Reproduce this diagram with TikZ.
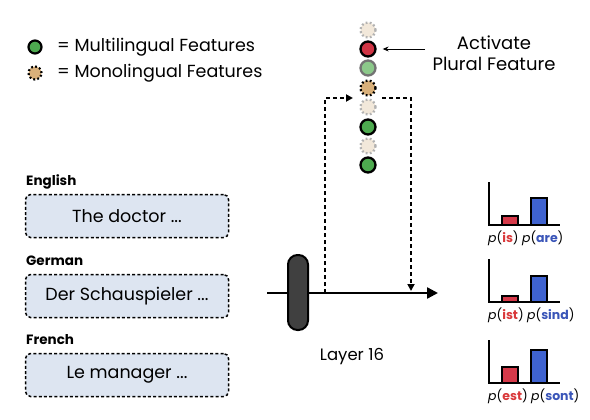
\documentclass[tikz,border=0pt]{standalone}
\usepackage{fontspec}
\setmainfont{Poppins}
\usetikzlibrary{arrows.meta, positioning, calc}

\definecolor{featgreen}{HTML}{4DAA4F}
\definecolor{palegreen}{HTML}{8CC98A}
\definecolor{pluralred}{HTML}{D03545}
\definecolor{monotan}{HTML}{D9B07A}
\definecolor{fadetan}{HTML}{F2E8DA}
\definecolor{boxblue}{HTML}{DDE5F1}
\definecolor{barred}{HTML}{D63A4A}
\definecolor{barblue}{HTML}{3F63D0}
\definecolor{txtred}{HTML}{D9383A}
\definecolor{txtblue}{HTML}{3A55B8}

\tikzset{
  multi/.style={circle, draw=black, line width=2.3pt, fill=featgreen, minimum size=15pt, inner sep=0pt},
  mono/.style={circle, draw=black, line width=2.3pt, dash pattern=on 1.8pt off 2.3pt, fill=monotan, minimum size=15pt, inner sep=0pt},
  faded/.style={circle, draw=gray!60, line width=2.3pt, dash pattern=on 1.8pt off 2.3pt, fill=fadetan, minimum size=15pt, inner sep=0pt},
  srcbox/.style={draw=black, rounded corners=5pt, line width=1.5pt, dash pattern=on 3pt off 2.2pt, fill=boxblue, minimum width=203pt, minimum height=43pt, font=\fontsize{17.5}{20}\selectfont},
  langlabel/.style={anchor=west, inner sep=0pt, font=\fontsize{13.5}{16}\selectfont\bfseries},
  flow/.style={line width=1.8pt, dash pattern=on 4pt off 3pt, -{Triangle[length=7pt,width=7pt]}},
  bar/.style={draw=black, line width=1.6pt},
  problabel/.style={inner sep=0pt, font=\fontsize{12.5}{15}\selectfont}
}

\begin{document}
\begin{tikzpicture}[x=1pt, y=-1pt, >=Triangle]
  \useasboundingbox (0,0) rectangle (590,420);

  % Legend
  \node[multi, minimum size=13pt, line width=2.2pt] (legmulti) at (35,47) {};
  \node[anchor=west, inner sep=0pt, font=\fontsize{17.5}{20}\selectfont] (legmultitxt) at (57,47) {= Multilingual Features};
  \node[mono, minimum size=13pt, line width=2.2pt] (legmono) at (35,73) {};
  \node[anchor=west, inner sep=0pt, font=\fontsize{17.5}{20}\selectfont] (legmonotxt) at (57,73) {= Monolingual Features};

  % Column of features at layer 16
  \node[faded] (f1) at (368,30) {};
  \node[multi, fill=pluralred] (f2) at (368,49) {};
  \node[multi, fill=palegreen, draw=gray!90!black] (f3) at (368,68) {};
  \node[mono] (f4) at (368,88) {};
  \node[faded] (f5) at (368,107) {};
  \node[multi] (f6) at (368,127) {};
  \node[faded] (f7) at (368,146) {};
  \node[multi] (f8) at (368,165) {};

  % Activation of the plural feature
  \coordinate (actstart) at (425,49);
  \draw[line width=0.9pt, -{Stealth[length=6pt,width=5pt]}] (actstart) -- ([xshift=6pt]f2.east);
  \node[align=center, font=\fontsize{18}{21}\selectfont] (actlabel) at (494,53) {Activate\\Plural Feature};

  % Residual stream through layer 16
  \coordinate (linestart) at (267,293);
  \coordinate (lineend) at (438,293);
  \draw[line width=2.4pt, -{Triangle[length=11pt,width=11pt]}] (linestart) -- (lineend);
  \node[draw=black, line width=2pt, fill=black!75, rounded corners=9.5pt, minimum width=20pt, minimum height=75pt, inner sep=0pt] (layer) at (298,292.5) {};
  \node[font=\fontsize{16.5}{20}\selectfont] (layerlabel) at (352,357) {Layer 16};

  % Read out to the features and write back
  \coordinate (tapout) at (325,293);
  \coordinate (tapin) at (353,98);
  \coordinate (retout) at (382,98);
  \coordinate (retin) at (411,291);
  \draw[flow] (tapout) |- (tapin);
  \draw[flow] (retout) -| (retin);

  % Prompts in three languages
  \node[langlabel] (englabel) at (26,182) {English};
  \node[srcbox] (engbox) at (127,216) {The doctor ...};
  \node[langlabel] (gerlabel) at (26,261) {German};
  \node[srcbox] (gerbox) at (127,296) {Der Schauspieler ...};
  \node[langlabel] (frelabel) at (26,340) {French};
  \node[srcbox] (frebox) at (127,375) {Le manager ...};

  % Output probabilities
  \foreach \base/\red/\blue/\sing/\plur [count=\i] in {225/9/27/is/are, 302/6/26/ist/sind, 383/16/33/est/sont} {
    \coordinate (origin\i) at (489,\base);
    \draw[line width=2pt] ($(origin\i)+(0,-43)$) -- (origin\i) -- ++(71,0);
    \draw[bar, fill=barred] ($(origin\i)+(13,0)$) rectangle ++(16,-\red);
    \draw[bar, fill=barblue] ($(origin\i)+(42,0)$) rectangle ++(16,-\blue);
    \node[problabel, anchor=west] (sing\i) at ($(origin\i)+(-1,13.5)$) {\textit{p}(\textbf{\textcolor{txtred}{\sing}})};
    \node[problabel, right=3pt of sing\i] (plur\i) {\textit{p}(\textbf{\textcolor{txtblue}{\plur}})};
  }
\end{tikzpicture}
\end{document}
